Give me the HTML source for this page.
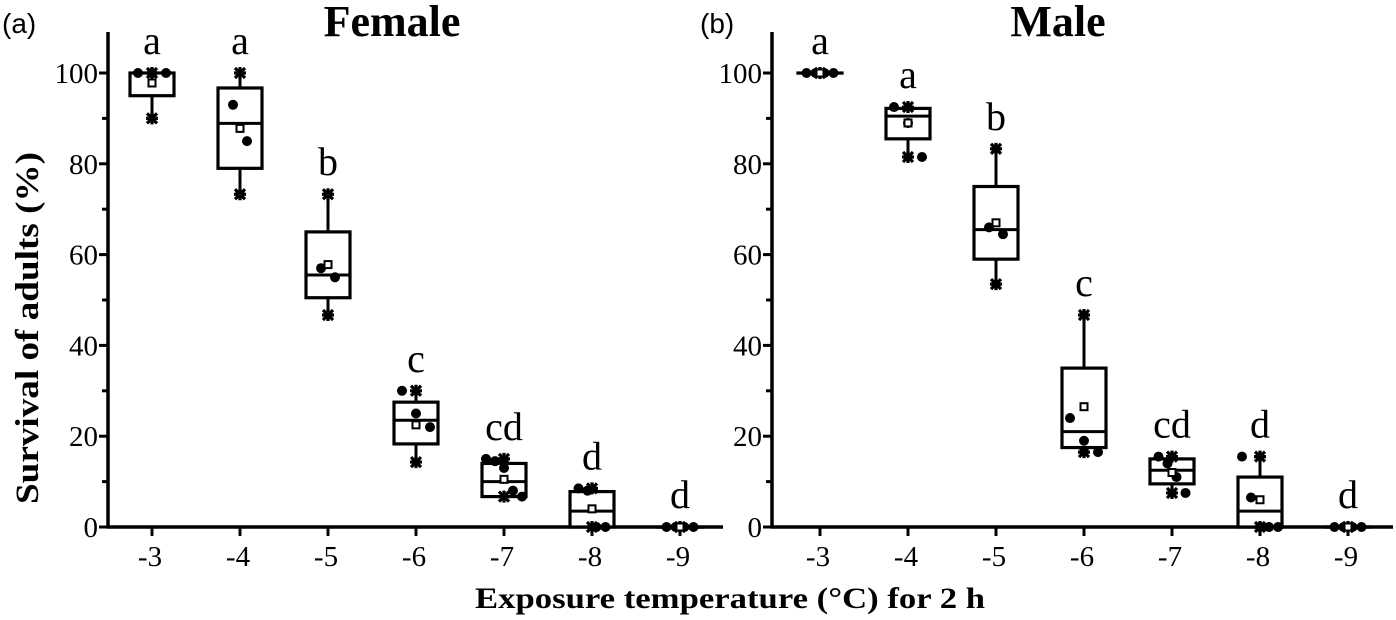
<!DOCTYPE html>
<html><head><meta charset="utf-8">
<style>
html,body{margin:0;padding:0;background:#fff;}
svg{display:block;}
svg text{font-family:"Liberation Serif","Times New Roman",serif;fill:#000;}
</style></head>
<body>
<svg id="chart" width="1396" height="620" viewBox="0 0 1396 620" xmlns="http://www.w3.org/2000/svg" font-family="Liberation Serif, serif">
<text x="2" y="33" style="font-family:'Liberation Sans',sans-serif" font-size="28">(a)</text>
<text x="700" y="33" style="font-family:'Liberation Sans',sans-serif" font-size="28">(b)</text>
<text x="392" y="36" font-size="44" font-weight="bold" text-anchor="middle">Female</text>
<text x="1058" y="36" font-size="44" font-weight="bold" text-anchor="middle">Male</text>
<text transform="translate(38,328) rotate(-90)" font-size="33" font-weight="bold" text-anchor="middle" textLength="352" lengthAdjust="spacingAndGlyphs">Survival of adults (%)</text>
<text x="730" y="608" font-size="30" font-weight="bold" text-anchor="middle" textLength="510" lengthAdjust="spacingAndGlyphs">Exposure temperature (°C) for 2 h</text>
</svg>
<script>
const categories = ["-3","-4","-5","-6","-7","-8","-9"];
const yTicks = [0,20,40,60,80,100];
// Female
const femaleQ1 = [95,79,50.5,18.3,6.7,0,0];
const femaleMedian = [100,88.9,55.5,23.5,10,3.5,0];
const femaleQ3 = [100,96.7,65,27.5,14,7.8,0];
const femaleMin = [90,73.3,46.7,14.3,6.7,0,0];
const femaleMax = [100,100,73.3,30,15,8.5,0];
const femaleMean = [97.8,87.8,57.8,22.5,10.5,4,0];
const femalePoints = [[100,100,100],[93,85],[57,55],[30,25,22],[15,14.5,13,8,6.7],[8.5,8,0,0],[0,0,0,0]];
const femaleLetters = ["a","a","b","c","cd","d","d"];
// Male
const maleQ1 = [100,85.5,59,17.5,9.5,0,0];
const maleMedian = [100,90.5,65.5,21,12.5,3.5,0];
const maleQ3 = [100,92.2,75,35,15,11,0];
const maleMin = [100,81.5,53.5,16.5,7.5,0,0];
const maleMax = [100,92.5,83.3,46.7,15.5,15.5,0];
const maleMean = [100,89,67,26.5,12,6,0];
const malePoints = [[100,100,100,100],[92.5,89,81.5],[66,64.5],[24,19,16.5],[15.5,14,11,7.5],[15.5,6.5,0,0,0],[0,0,0,0]];
const maleLetters = ["a","a","b","c","cd","d","d"];

const NS="http://www.w3.org/2000/svg";
const svg=document.getElementById('chart');
function mk(tag,attrs,parent){const e=document.createElementNS(NS,tag);for(const k in attrs)e.setAttribute(k,attrs[k]);(parent||svg).appendChild(e);return e;}
const y0=527, yPer=4.54;
function yScale(v){return y0-v*yPer;}
const SERIF='Liberation Serif, serif';

function panel(opt){
  const g=mk('g',{});
  
  
  function xScale(i){return opt.x0+i*88;}
  const ya=mk('line',{x1:opt.ax,y1:32,x2:opt.ax,y2:y0+1.5,stroke:'#000','stroke-width':3.5},g);
  
  
  const xa=mk('line',{x1:opt.ax-1.5,y1:y0,x2:opt.axEnd,y2:y0,stroke:'#000','stroke-width':3.5},g);
  
  
  for(let v=0;v<=100;v+=10){
    const major=yTicks.indexOf(v)>=0;
    mk('line',{x1:opt.ax-(major?9:6),y1:yScale(v),x2:opt.ax,y2:yScale(v),stroke:'#000','stroke-width':3},g);
  }
  yTicks.forEach(v=>{
    const t=mk('text',{x:opt.ax-10,y:yScale(v)+10,'font-size':29,'text-anchor':'end','font-family':SERIF},g);
    t.textContent=v;
    
    
  });
  categories.forEach((c,i)=>{
    const x=xScale(i);
    mk('line',{x1:x,y1:y0,x2:x,y2:y0+9,stroke:'#000','stroke-width':3},g);
    const t=mk('text',{x:x-2,y:y0+39,'font-size':29,'text-anchor':'middle','font-family':SERIF},g);
    t.textContent=c;
    
    
    const bg=mk('g',{},g);
    
    
    const w=44;
    mk('line',{x1:x,y1:yScale(opt.max[i]),x2:x,y2:yScale(opt.min[i]),stroke:'#000','stroke-width':3},bg);
    const top=yScale(opt.q3[i]), bot=yScale(opt.q1[i]);
    mk('rect',{x:x-w/2,y:top,width:w,height:Math.max(bot-top,0.1),fill:'#fff',stroke:'#000','stroke-width':3.2},bg);
    mk('line',{x1:x-w/2,y1:yScale(opt.med[i]),x2:x+w/2,y2:yScale(opt.med[i]),stroke:'#000','stroke-width':3},bg);
    [opt.max[i],opt.min[i]].forEach(v=>{
      const yy=yScale(v);
      mk('path',{d:`M${x-5},${yy-5}L${x+5},${yy+5}M${x+5},${yy-5}L${x-5},${yy+5}M${x-6},${yy}L${x+6},${yy}M${x},${yy-6}L${x},${yy+6}`,stroke:'#000','stroke-width':3.2},bg);
    });
    const pts=opt.pts[i];
    pts.forEach((v,k)=>{
      const off=(k-(pts.length-1)/2)*(pts.length>3?9:14);
      const p=mk('circle',{cx:x+off,cy:yScale(v),r:5,fill:'#000'},bg);
      
      
    });
    const m=mk('rect',{x:x-3.5,y:yScale(opt.mean[i])-3.5,width:7,height:7,fill:'#fff',stroke:'#000','stroke-width':2},bg);
    
    
    const lt=mk('text',{x:x,y:yScale(opt.max[i])-19,'font-size':40,'text-anchor':'middle','font-family':SERIF},g);
    lt.textContent=opt.letters[i];
    
    
  });
}
panel({name:'female-panel',ax:108,axEnd:723,x0:152,q1:femaleQ1,med:femaleMedian,q3:femaleQ3,min:femaleMin,max:femaleMax,mean:femaleMean,pts:femalePoints,letters:femaleLetters});
panel({name:'male-panel',ax:772,axEnd:1393,x0:820,q1:maleQ1,med:maleMedian,q3:maleQ3,min:maleMin,max:maleMax,mean:maleMean,pts:malePoints,letters:maleLetters});
</script>
</body></html>
